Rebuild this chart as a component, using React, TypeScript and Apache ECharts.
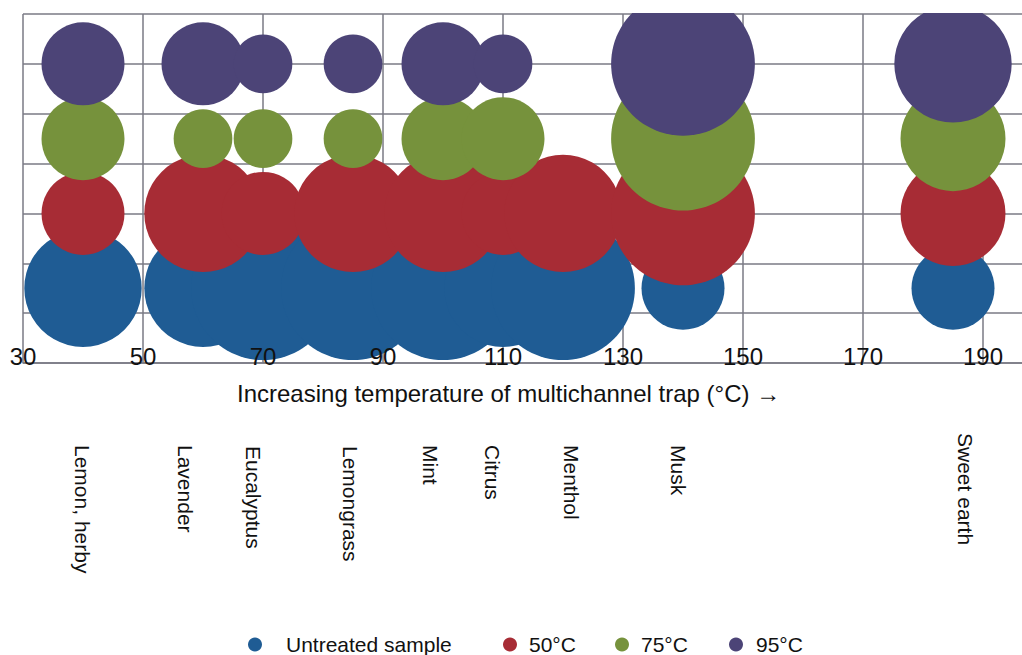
import React, { useEffect, useRef } from "react";
import * as echarts from "echarts";

// ---- data ----
const SCENTS = ["Lemon, herby", "Lavender", "Eucalyptus", "Lemongrass", "Mint", "Citrus", "Menthol", "Musk", "Sweet earth"];
const TRAP_TEMP = [40, 60, 70, 85, 100, 110, 120, 140, 185];
const SERIES_NAMES = ["Untreated sample", "50°C", "75°C", "95°C"];
const ROW_LEVEL = [1.5, 3, 4.5, 6];
const UNTREATED = [2, 2, 3, 3, 3, 2, 3, 1, 1];
const T50 = [1, 2, 1, 2, 2, 1, 2, 3, 1.6];
const T75 = [1, 0.5, 0.5, 0.5, 1, 1, 0, 3, 1.6];
const T95 = [1, 1, 0.5, 0.5, 1, 0.5, 0, 3, 2];
const X_MIN = 30;
const X_MAX = 196.5;
const X_STEP = 20;
const Y_MIN = 0;
const Y_MAX = 7;
const Y_STEP = 1;
const AXIS_TITLE = "Increasing temperature of multichannel trap (°C) →";

// ---- layout / style ----
const COLORS = ["#1f5c94", "#a72c35", "#76923c", "#4c4477"];
const GRID_COLOR = "#7a7a84";
const BUBBLE_UNIT = 83;
const LABEL_DX = [-1, -18, -10, -3, -13, -11, 8, -5, 12];
const LABEL_TOP = [445, 445, 446, 446, 445, 445, 445, 445, 433];
const LEGEND_LEFT = [243, 498, 610, 724];
const LEGEND_PAD = [19, 7, 7, 8];
const FONT = "Liberation Sans, Arial, sans-serif";

const SERIES_VALUES = [UNTREATED, T50, T75, T95];

export default function App() {
  const ref = useRef<HTMLDivElement>(null);

  useEffect(() => {
    if (!ref.current) return;
    const chart = echarts.init(ref.current, null, { renderer: "svg" });
    const gridRect = { left: 23, top: 14, right: 0, bottom: 292 };
    const option: any = {
      animation: false,
      backgroundColor: "#ffffff",
      grid: [gridRect, gridRect],
      xAxis: [
        {
          type: "value",
          gridIndex: 0,
          min: X_MIN,
          max: X_MAX,
          interval: X_STEP,
          axisLine: { show: true, lineStyle: { color: GRID_COLOR, width: 1.5 } },
          axisTick: { show: false },
          axisLabel: { show: false },
          splitLine: { show: true, showMaxLine: false, lineStyle: { color: GRID_COLOR, width: 1.5 } },
        },
        {
          type: "value",
          gridIndex: 1,
          position: "bottom",
          min: X_MIN,
          max: X_MAX,
          interval: X_STEP,
          z: 10,
          axisLine: { show: false },
          axisTick: { show: false },
          splitLine: { show: false },
          axisLabel: {
            show: true,
            showMaxLabel: false,
            fontSize: 24,
            fontFamily: FONT,
            color: "#111111",
            margin: -7,
            verticalAlign: "middle",
          },
        },
      ],
      yAxis: [
        {
          type: "value",
          gridIndex: 0,
          min: Y_MIN,
          max: Y_MAX,
          interval: Y_STEP,
          axisLine: { show: false },
          axisTick: { show: false },
          axisLabel: { show: false },
          splitLine: { show: true, lineStyle: { color: GRID_COLOR, width: 1.5 } },
        },
        { type: "value", gridIndex: 1, min: Y_MIN, max: Y_MAX, show: false },
      ],
      legend: SERIES_NAMES.map((name, i) => ({
        data: [{ name, icon: "circle" }],
        left: LEGEND_LEFT[i],
        top: 629,
        itemWidth: 14,
        itemHeight: 14,
        textStyle: { fontSize: 21, fontFamily: FONT, color: "#111111", padding: [0, 0, 0, LEGEND_PAD[i]] },
      })),
      series: SERIES_NAMES.map((name, k) => ({
        name,
        type: "scatter",
        xAxisIndex: 0,
        yAxisIndex: 0,
        itemStyle: { color: COLORS[k], opacity: 1 },
        symbolSize: (d: number[]) => BUBBLE_UNIT * Math.sqrt(d[2]),
        data: TRAP_TEMP.map((t, i) => [t, ROW_LEVEL[k], SERIES_VALUES[k][i]]).filter((d) => d[2] > 0),
      })),
    };
    chart.setOption(option);

    const labels = SCENTS.map((s, i) => {
      const p = chart.convertToPixel({ xAxisIndex: 0, yAxisIndex: 0 } as any, [TRAP_TEMP[i], 0]) as number[];
      return {
        type: "text",
        x: p[0] + LABEL_DX[i],
        y: LABEL_TOP[i],
        rotation: -Math.PI / 2,
        style: {
          text: s,
          fontSize: 21,
          fontFamily: FONT,
          fill: "#111111",
          align: "left",
          verticalAlign: "middle",
        },
      };
    });
    chart.setOption({
      graphic: [
        {
          type: "rect",
          z: 100,
          shape: { x: 0, y: 0, width: 1022, height: 13 },
          style: { fill: "#ffffff" },
        },
        {
          type: "text",
          x: 237,
          y: 393,
          style: {
            text: AXIS_TITLE,
            fontSize: 24,
            fontFamily: FONT,
            fill: "#111111",
            align: "left",
            verticalAlign: "middle",
          },
        },
        ...labels,
      ],
    });

    return () => chart.dispose();
  }, []);

  return (
    <div
      ref={ref}
      style={{ position: "fixed", left: 0, top: 0, width: 1022, height: 655, background: "#fff" }}
    />
  );
}
